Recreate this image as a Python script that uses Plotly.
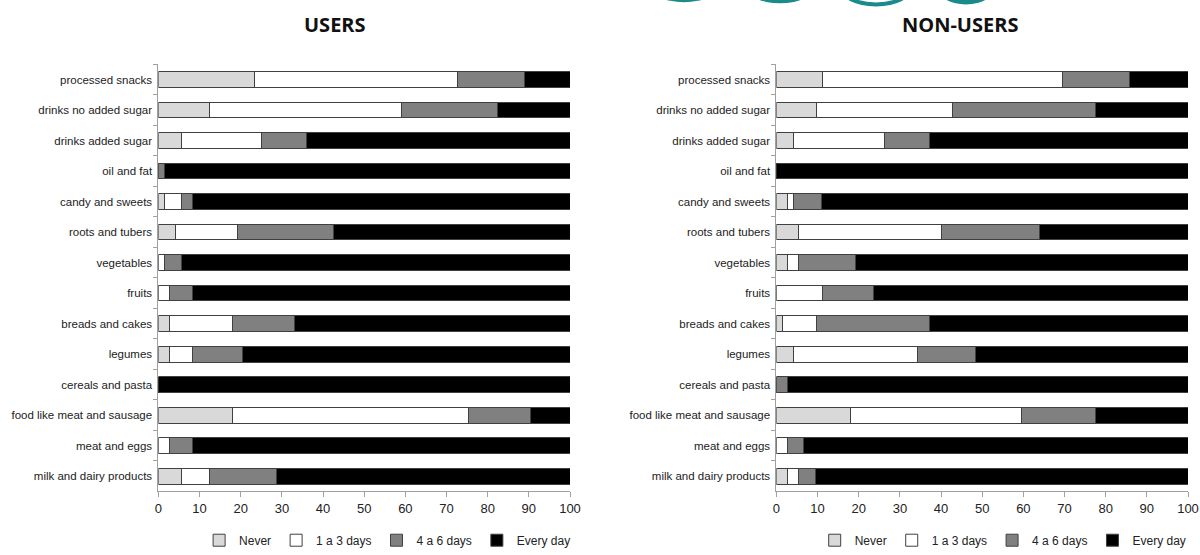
import plotly.graph_objects as go

categories = [
    "processed snacks", "drinks no added sugar", "drinks added sugar", "oil and fat",
    "candy and sweets", "roots and tubers", "vegetables", "fruits", "breads and cakes",
    "legumes", "cereals and pasta", "food like meat and sausage", "meat and eggs",
    "milk and dairy products",
]
series_names = ["Never", "1 a 3 days", "4 a 6 days", "Every day"]

users_never = [23.3, 12.5, 5.7, 0.0, 1.5, 4.2, 0.0, 0.0, 2.8, 2.8, 0.0, 17.9, 0.0, 5.6]
users_1to3 = [49.3, 46.5, 19.3, 0.0, 4.2, 15.1, 1.4, 2.8, 15.2, 5.6, 0.0, 57.4, 2.8, 6.9]
users_4to6 = [16.3, 23.4, 11.0, 1.4, 2.7, 23.2, 4.2, 5.6, 15.0, 12.0, 0.0, 15.2, 5.6, 16.3]
users_every = [11.1, 17.6, 64.0, 98.6, 91.6, 57.5, 94.4, 91.6, 67.0, 79.6, 100.0, 9.5, 91.6, 71.2]

non_never = [11.1, 9.7, 4.2, 0.0, 2.8, 5.4, 2.8, 0.0, 1.4, 4.2, 0.0, 17.9, 0.0, 2.8]
non_1to3 = [58.3, 33.2, 22.0, 0.0, 1.4, 34.7, 2.6, 11.1, 8.3, 30.2, 0.0, 41.7, 2.8, 2.6]
non_4to6 = [16.4, 34.6, 10.9, 0.0, 6.8, 23.7, 13.8, 12.4, 27.4, 14.0, 2.7, 17.9, 3.9, 4.1]
non_every = [14.2, 22.5, 62.9, 100.0, 89.0, 36.2, 80.8, 76.5, 62.9, 51.6, 97.3, 22.5, 93.3, 90.5]

x_ticks = [0, 10, 20, 30, 40, 50, 60, 70, 80, 90, 100]
colors = ["#d9d9d9", "#ffffff", "#808080", "#000000"]

FONT = "Liberation Sans, Arial"

fig = go.Figure()
users = [users_never, users_1to3, users_4to6, users_every]
nonusers = [non_never, non_1to3, non_4to6, non_every]
for name, vals, col in zip(series_names, users, colors):
    fig.add_trace(go.Bar(y=categories, x=vals, name=name, orientation="h",
                         marker=dict(color=col, line=dict(color="#404040", width=1)),
                         xaxis="x", yaxis="y", legend="legend"))
for name, vals, col in zip(series_names, nonusers, colors):
    fig.add_trace(go.Bar(y=categories, x=vals, name=name, orientation="h",
                         marker=dict(color=col, line=dict(color="#404040", width=1)),
                         xaxis="x2", yaxis="y2", legend="legend2"))

ax_common = dict(range=[0, 100], tickvals=x_ticks, ticks="outside", ticklen=5,
                 tickcolor="#a0a0a0", showline=True, linecolor="#a0a0a0", linewidth=1,
                 showgrid=False, zeroline=False, fixedrange=True, automargin=False,
                 tickfont=dict(family=FONT, size=13, color="#222222"))
ay_common = dict(categoryorder="array", categoryarray=categories, autorange="reversed",
                 ticks="outside", tickson="boundaries", ticklen=4, tickcolor="#a0a0a0",
                 showline=True, linecolor="#a0a0a0", linewidth=1, showgrid=False,
                 domain=[0.105, 0.883], ticklabelstandoff=3, automargin=False,
                 tickfont=dict(family=FONT, size=11.5, color="#222222"))

legend_common = dict(orientation="h", xanchor="center", yanchor="middle", traceorder="normal",
                     font=dict(family=FONT, size=12, color="#222222"),
                     itemwidth=30, bgcolor="rgba(0,0,0,0)", tracegroupgap=0)

fig.update_layout(
    width=1200, height=555,
    margin=dict(l=0, r=0, t=0, b=0),
    paper_bgcolor="white", plot_bgcolor="white",
    barmode="stack", bargap=0.48,
    xaxis=dict(domain=[0.132, 0.475], anchor="y", **ax_common),
    yaxis=dict(anchor="x", **ay_common),
    xaxis2=dict(domain=[0.647, 0.990], anchor="y2", **ax_common),
    yaxis2=dict(anchor="x2", **ay_common),
    legend=dict(x=0.323, y=0.016, **legend_common),
    legend2=dict(x=0.836, y=0.016, **legend_common),
    annotations=[
        dict(text="<b>USERS</b>", x=0.279, y=1 - 25 / 555, xref="paper", yref="paper",
             xanchor="center", yanchor="middle",
             showarrow=False, font=dict(family="Open Sans", size=20, color="#111111")),
        dict(text="<b>NON-USERS</b>", x=0.800, y=1 - 25 / 555, xref="paper", yref="paper",
             xanchor="center", yanchor="middle",
             showarrow=False, font=dict(family="Open Sans", size=20, color="#111111")),
    ],
    shapes=[
        dict(type="circle", xref="paper", yref="paper", x0=0.70, x1=0.76, y0=0.992, y1=1.06,
             line=dict(color="#1a8a8a", width=4), fillcolor="rgba(0,0,0,0)", layer="below"),
        dict(type="circle", xref="paper", yref="paper", x0=0.78, x1=0.83, y0=0.992, y1=1.06,
             line=dict(color="#1a8a8a", width=0), fillcolor="#1a8a8a", layer="below"),
        dict(type="circle", xref="paper", yref="paper", x0=0.62, x1=0.68, y0=0.994, y1=1.06,
             line=dict(color="#1a8a8a", width=0), fillcolor="#1a8a8a", layer="below"),
        dict(type="circle", xref="paper", yref="paper", x0=0.54, x1=0.60, y0=0.996, y1=1.06,
             line=dict(color="#1a8a8a", width=0), fillcolor="#1a8a8a", layer="below"),
    ],
)

fig.write_html("out.html", config={"displayModeBar": False},
               post_script="document.body.style.margin='0';document.body.style.padding='0';")
